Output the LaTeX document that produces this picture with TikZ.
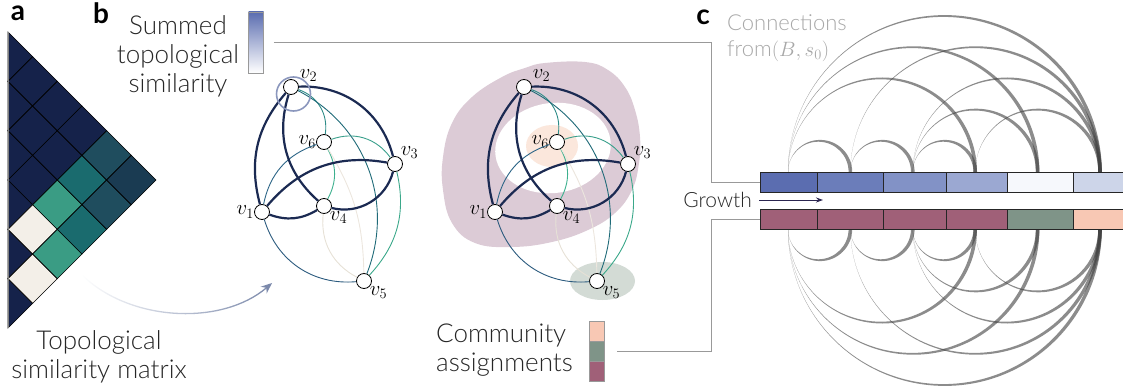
\documentclass[tikz,border=0pt]{standalone}
\usepackage[no-math]{fontspec}
\setmainfont{Lato Light}
\newfontfamily\panelfont{Lato}
\usetikzlibrary{arrows.meta,fadings}

\definecolor{mnavy}{HTML}{15224A}
\definecolor{mcream}{HTML}{F3EFE8}
\definecolor{mgreen}{HTML}{3A9C84}
\definecolor{mteal}{HTML}{1A6B6E}
\definecolor{mdteal}{HTML}{1F4D5E}
\definecolor{mddteal}{HTML}{1A3B52}
\definecolor{edgeN}{HTML}{1B2A52}
\definecolor{eA}{HTML}{2E8C88}
\definecolor{eB}{HTML}{1F6A78}
\definecolor{eC}{HTML}{3AA08C}
\definecolor{eD}{HTML}{3DB08E}
\definecolor{eE}{HTML}{2B6486}
\definecolor{eF}{HTML}{ECE6DE}
\definecolor{eG}{HTML}{E6E1D6}
\definecolor{eH}{HTML}{2B5A7E}
\definecolor{eI}{HTML}{3BA88A}
\definecolor{ringc}{HTML}{8B97BD}
\definecolor{simc}{HTML}{5B6DB0}
\definecolor{comA}{HTML}{DCCBD6}
\definecolor{comB}{HTML}{FBE7DC}
\definecolor{comC}{HTML}{D3DBD5}
\definecolor{peachc}{HTML}{F8C8B4}
\definecolor{sagec}{HTML}{7F9488}
\definecolor{mauvec}{HTML}{A06078}
\definecolor{tA}{HTML}{5B6DB0}
\definecolor{tB}{HTML}{6B7DBA}
\definecolor{tC}{HTML}{8292C6}
\definecolor{tD}{HTML}{9BA8D2}
\definecolor{tE}{HTML}{F6F8FC}
\definecolor{tF}{HTML}{CDD5E9}
\definecolor{arrowc}{HTML}{7A88AA}
\definecolor{growc}{HTML}{2B2550}
\definecolor{conc}{HTML}{A8A8A8}

\begin{document}
\begin{tikzpicture}
        [x=1pt, y=1pt,
        txt/.style={font=\fontsize{26}{29}\selectfont, text=black!85, inner sep=0},
        panel/.style={font=\panelfont\bfseries\fontsize{28}{30}\selectfont, inner sep=0},
        vtx/.style={circle, draw, fill=white, minimum size=15pt, inner sep=0, line width=0.8pt, label distance=3pt},
        lab/.style={font=\fontsize{22}{25}\selectfont, inner sep=0},
        thickedge/.style={draw=edgeN, line width=2.2pt},
        thinedge/.style={line width=0.9pt},
        ring/.style={draw=ringc, line width=1.6pt},
        cell/.style={rectangle, draw=black!85, line width=0.6pt, minimum height=20pt, inner sep=0},
        cbar/.style={rectangle, draw=gray!80, line width=0.6pt, minimum width=15pt, inner sep=0},
        conn/.style={fill=black!75, fill opacity=0.6},
        link/.style={draw=gray!80, line width=1pt},
        growarrow/.style={draw=growc, line width=1pt, -{Stealth[length=7pt,width=5pt]}},
        mx/.style={draw=black, line width=0.6pt},
        simarrow/.style={draw=arrowc, line width=1.3pt, -{Stealth[length=11pt,width=9pt]}}]
        \useasboundingbox (0,0) rectangle (1123,-390);

        % panel a: similarity matrix
        \foreach \i in {0,...,5}
            \filldraw[mx, fill=mnavy] (8,{-32-49.333*\i}) -- ++(24.667,-24.667) -- ++(-24.667,-24.667) -- cycle;
        \foreach \i/\j/\c in {0/1/mnavy,1/2/mnavy,2/3/mnavy,3/4/mcream,4/5/mcream,
                0/2/mnavy,1/3/mnavy,2/4/mgreen,3/5/mgreen,0/3/mnavy,1/4/mteal,2/5/mteal,
                0/4/mdteal,1/5/mdteal,0/5/mddteal} {
            \pgfmathsetmacro\cx{8+24.667*(\j-\i)}
            \pgfmathsetmacro\cy{-56.667-24.667*(\i+\j)}
            \filldraw[mx, fill=\c] (\cx-24.667,\cy) -- ++(24.667,24.667) -- ++(24.667,-24.667) -- ++(-24.667,-24.667) -- cycle;
        }
        \draw[gray, line width=1pt] (8,-32) -- (8,-328);

        \node[panel] (la) at (18,-13) {a};
        \node[panel] (lb) at (101,-13) {b};
        \node[panel] (lc) at (703,-17) {c};

        \node[txt, align=center] (mxtxt) at (99,-357) {Topological\\similarity matrix};
        \node[txt, align=center] (simtxt) at (178,-56) {Summed\\topological\\similarity};
        \node[cbar, minimum height=61pt, top color=simc, bottom color=white] (simbar) at (256,-42.5) {};

        % communities
        \fill[comA] plot[smooth cycle, tension=0.7] coordinates {(545,-63) (585,-62) (608,-70) (625,-87) (635,-110) (640,-137) (639,-163) (632,-190) (615,-213) (588,-230) (552,-242) (512,-247) (475,-243) (452,-223) (443,-190) (443,-157) (452,-123) (472,-97) (502,-77) (525,-68)};
        \fill[white, rotate around={8:(553,-148)}] (553,-148) ellipse[x radius=58, y radius=45];
        \fill[comB] (552,-146) ellipse[x radius=26, y radius=21];
        \fill[comC] (602.5,-281) ellipse[x radius=32.5, y radius=19];

        % graphs
        \foreach \g/\dx in {L/0,R/233} {
            \begin{scope}[xshift=\dx]
                \node[vtx, label={[lab]left:$v_1$}] (\g1) at (262,-212) {};
                \node[vtx, label={[lab, xshift=3pt]above right:$v_2$}] (\g2) at (291,-87) {};
                \node[vtx, label={[lab]above right:$v_3$}] (\g3) at (395,-164) {};
                \node[vtx, label={[lab]below right:$v_4$}] (\g4) at (324,-206) {};
                \node[vtx, label={[lab]below right:$v_5$}] (\g5) at (364,-281) {};
                \node[vtx, label={[lab]left:$v_6$}] (\g6) at (324,-142) {};
            \end{scope}
            \foreach \p/\q/\ang/\col in {2/6/40/eA, 2/5/42/eB, 6/3/37/eC, 6/4/28/eD, 6/1/-30/eE,
                    6/5/15/eF, 4/5/-34/eG, 1/5/-39/eH, 3/5/28/eI}
                \draw[thinedge, draw=\col] (\g\p) to[bend left=\ang] (\g\q);
            \foreach \p/\q/\ang in {1/2/28, 2/3/39, 2/4/-33, 1/3/30, 1/4/-25, 4/3/-45}
                \draw[thickedge] (\g\p) to[bend left=\ang] (\g\q);
        }
        \draw[ring] ([shift={(2.5,-7)}]L2.center) circle[radius=17];

        \coordinate (mxout) at (82,-275);
        \coordinate (gin) at (272,-283);
        \draw[simarrow, path fading=west] (mxout) .. controls (130,-322) and (222,-326) .. (gin);

        \node[txt, align=left, anchor=west] (comtxt) at (436,-350) {Community\\assignments};
        \node[cbar, minimum height=20pt, fill=peachc] (com1) at (596.5,-331) {};
        \node[cbar, minimum height=20pt, fill=sagec] (com2) at (596.5,-351) {};
        \node[cbar, minimum height=20pt, fill=mauvec] (com3) at (596.5,-371) {};

        % panel c: arcs
        \foreach \a/\b in {1/2,2/3,3/4,3/5,4/6,1/4,3/6,1/5,2/6,1/6} {
            \pgfmathsetmacro\xa{788+62.4*(\a-1)}
            \pgfmathsetmacro\ro{31.2*(\b-\a)+0.9}
            \pgfmathsetmacro\ri{31.2*(\b-\a)-0.9}
            \fill[conn] (\xa,-172) arc[start angle=180, end angle=0, radius=\ro] -- ++(-3.6,0) arc[start angle=0, end angle=180, radius=\ri] -- cycle;
            \fill[conn] (\xa,-229) arc[start angle=180, end angle=360, radius=\ro] -- ++(-3.6,0) arc[start angle=360, end angle=180, radius=\ri] -- cycle;
        }
        \foreach \l/\r/\c [count=\i] in {760/817/tA, 817/883/tB, 883/946/tC, 946/1007/tD, 1007/1073/tE, 1073/1140/tF}
            \node[cell, fill=\c, minimum width={(\r-\l)*1pt}] (t\i) at ({(\l+\r)/2},-182) {};
        \foreach \l/\r/\c [count=\i] in {760/817/mauvec, 817/883/mauvec, 883/946/mauvec, 946/1007/mauvec, 1007/1073/sagec, 1073/1140/peachc}
            \node[cell, fill=\c, minimum width={(\r-\l)*1pt}] (b\i) at ({(\l+\r)/2},-219) {};

        \node[txt, anchor=east, font=\fontsize{21}{24}\selectfont] (growth) at (752,-200) {Growth};
        \coordinate (gend) at (823,-200);
        \draw[growarrow] ([xshift=7pt]growth.east) -- (gend);

        \node[txt, align=left, anchor=west, text=conc, font=\fontsize{22}{26}\selectfont] (contxt) at (727,-38) {Connections\\from$(B,s_0)$};

        \draw[link] ([xshift=10pt]simbar.east) -| ([xshift=-48pt]t1.west) -- (t1.west);
        \draw[link] ([xshift=13pt]com2.east) -| ([xshift=-48pt]b1.west) -- (b1.west);
    \end{tikzpicture}
\end{document}
